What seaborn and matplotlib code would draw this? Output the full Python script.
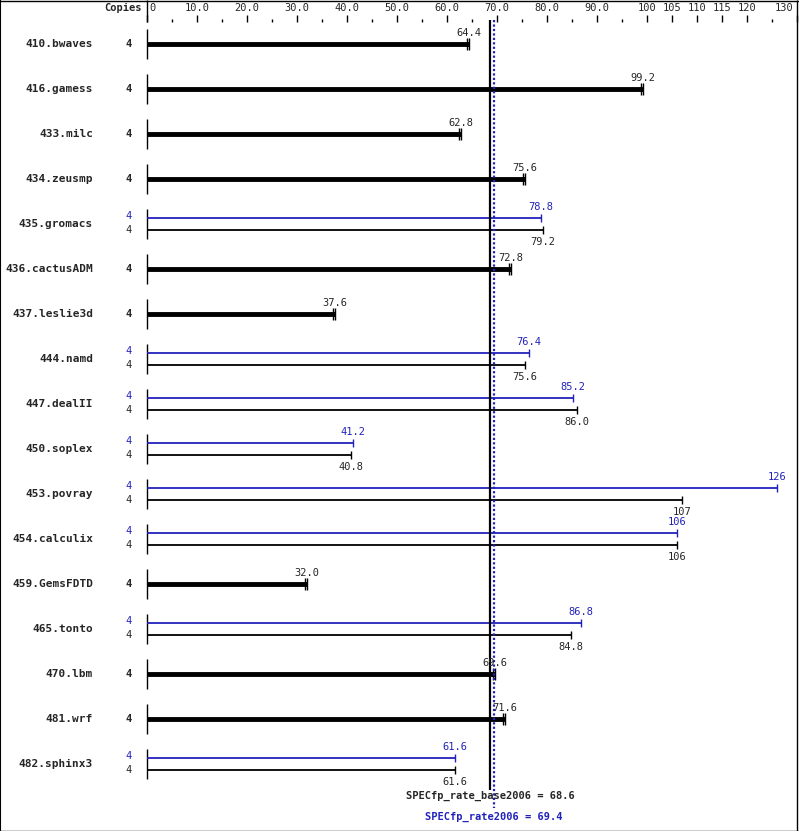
import matplotlib
matplotlib.use("Agg")
import matplotlib.pyplot as plt
import seaborn as sns

benchmarks = ["410.bwaves", "416.gamess", "433.milc", "434.zeusmp", "435.gromacs",
              "436.cactusADM", "437.leslie3d", "444.namd", "447.dealII", "450.soplex",
              "453.povray", "454.calculix", "459.GemsFDTD", "465.tonto", "470.lbm",
              "481.wrf", "482.sphinx3"]
base_vals = [64.4, 99.2, 62.8, 75.6, 79.2, 72.8, 37.6, 75.6, 86.0, 40.8,
             107, 106, 32.0, 84.8, 69.6, 71.6, 61.6]
peak_vals = [None, None, None, None, 78.8, None, None, 76.4, 85.2, 41.2,
             126, 106, None, 86.8, None, None, 61.6]
base_labels = ["64.4", "99.2", "62.8", "75.6", "79.2", "72.8", "37.6", "75.6", "86.0", "40.8",
               "107", "106", "32.0", "84.8", "69.6", "71.6", "61.6"]
peak_labels = [None, None, None, None, "78.8", None, None, "76.4", "85.2", "41.2",
               "126", "106", None, "86.8", None, None, "61.6"]
copies = 4
base_score = 68.6
peak_score = 69.4
major_ticks = [0, 10, 20, 30, 40, 50, 60, 70, 80, 90, 100, 105, 110, 115, 120, 130]
tick_labels = ["0", "10.0", "20.0", "30.0", "40.0", "50.0", "60.0", "70.0", "80.0", "90.0",
               "100", "105", "110", "115", "120", "130"]
minor_ticks = [5, 15, 25, 35, 45, 55, 65, 75, 85, 95, 125]

sns.set_style("white")
plt.rcParams['font.family'] = ['DejaVu Sans Mono', 'DejaVu Sans']
BLUE = "#2222bb"

fig = plt.figure(figsize=(7.99, 8.31), dpi=100)
ax = fig.add_axes([0, 0, 1, 1])
# x in value units (5 px per unit, 0 at px 147), y in pixels
ax.set_xlim(-29.4, 130.4)
ax.set_ylim(831, 0)
ax.axis("off")

fs = 7.5
# top scale
ax.vlines(0, 0, 22, color="black", lw=1)
for t, lab in zip(major_ticks, tick_labels):
    ax.vlines(t, 15, 22, color="black", lw=1)
    if t == 0:
        ax.text(t + 0.5, 8, lab, fontsize=fs, va="center", ha="left")
    elif t == 130:
        ax.text(t - 0.8, 8, lab, fontsize=fs, va="center", ha="right")
    else:
        ax.text(t, 8, lab, fontsize=fs, va="center", ha="center")
for t in minor_ticks:
    ax.vlines(t, 19, 22, color="black", lw=1)
ax.text(-1, 8, "Copies", fontsize=fs, weight="bold", va="center", ha="right")

for i, name in enumerate(benchmarks):
    yc = 44 + 45 * i
    ax.vlines(0, yc - 15, yc + 15, color="black", lw=1)
    ax.text(-10.8, yc, name, fontsize=8, weight="bold", va="center", ha="right")
    b = base_vals[i]
    p = peak_vals[i]
    if p is None:
        ax.hlines(yc, 0, b, color="black", lw=3.5)
        ax.vlines([b - 0.5, b], yc - 6, yc + 6, color="black", lw=1)
        ax.text(b, yc - 11, base_labels[i], fontsize=fs, ha="center", va="center")
        ax.text(-3, yc, str(copies), fontsize=fs, weight="bold", va="center", ha="right")
    else:
        yp, yb = yc - 6, yc + 6
        ax.hlines(yp, 0, p, color=BLUE, lw=1.3)
        ax.vlines(p, yp - 4, yp + 4, color=BLUE, lw=1)
        ax.text(p, yp - 11, peak_labels[i], fontsize=fs, ha="center", va="center", color=BLUE)
        ax.text(-3, yp - 2, str(copies), fontsize=fs, va="center", ha="right", color=BLUE)
        ax.hlines(yb, 0, b, color="black", lw=1.3)
        ax.vlines(b, yb - 4, yb + 4, color="black", lw=1)
        ax.text(b, yb + 12, base_labels[i], fontsize=fs, ha="center", va="center")
        ax.text(-3, yb, str(copies), fontsize=fs, va="center", ha="right")

ax.vlines(base_score, 20, 790, color="black", lw=1.6)
ax.vlines(peak_score, 20, 808, color=BLUE, lw=1.6, linestyles=(0, (1, 1)))
ax.text(base_score, 796, f"SPECfp_rate_base2006 = {base_score}", fontsize=fs,
        weight="bold", ha="center", va="center")
ax.text(peak_score, 817, f"SPECfp_rate2006 = {peak_score}", fontsize=fs,
        weight="bold", ha="center", va="center", color=BLUE)

# frame
ax.vlines(130, 0, 831, color="black", lw=1)
ax.vlines(-29.4, 0, 831, color="black", lw=1.5)
ax.hlines([0.5, 830.5], -29.4, 130.4, color="black", lw=1)

fig.savefig("out.png", dpi=100)
